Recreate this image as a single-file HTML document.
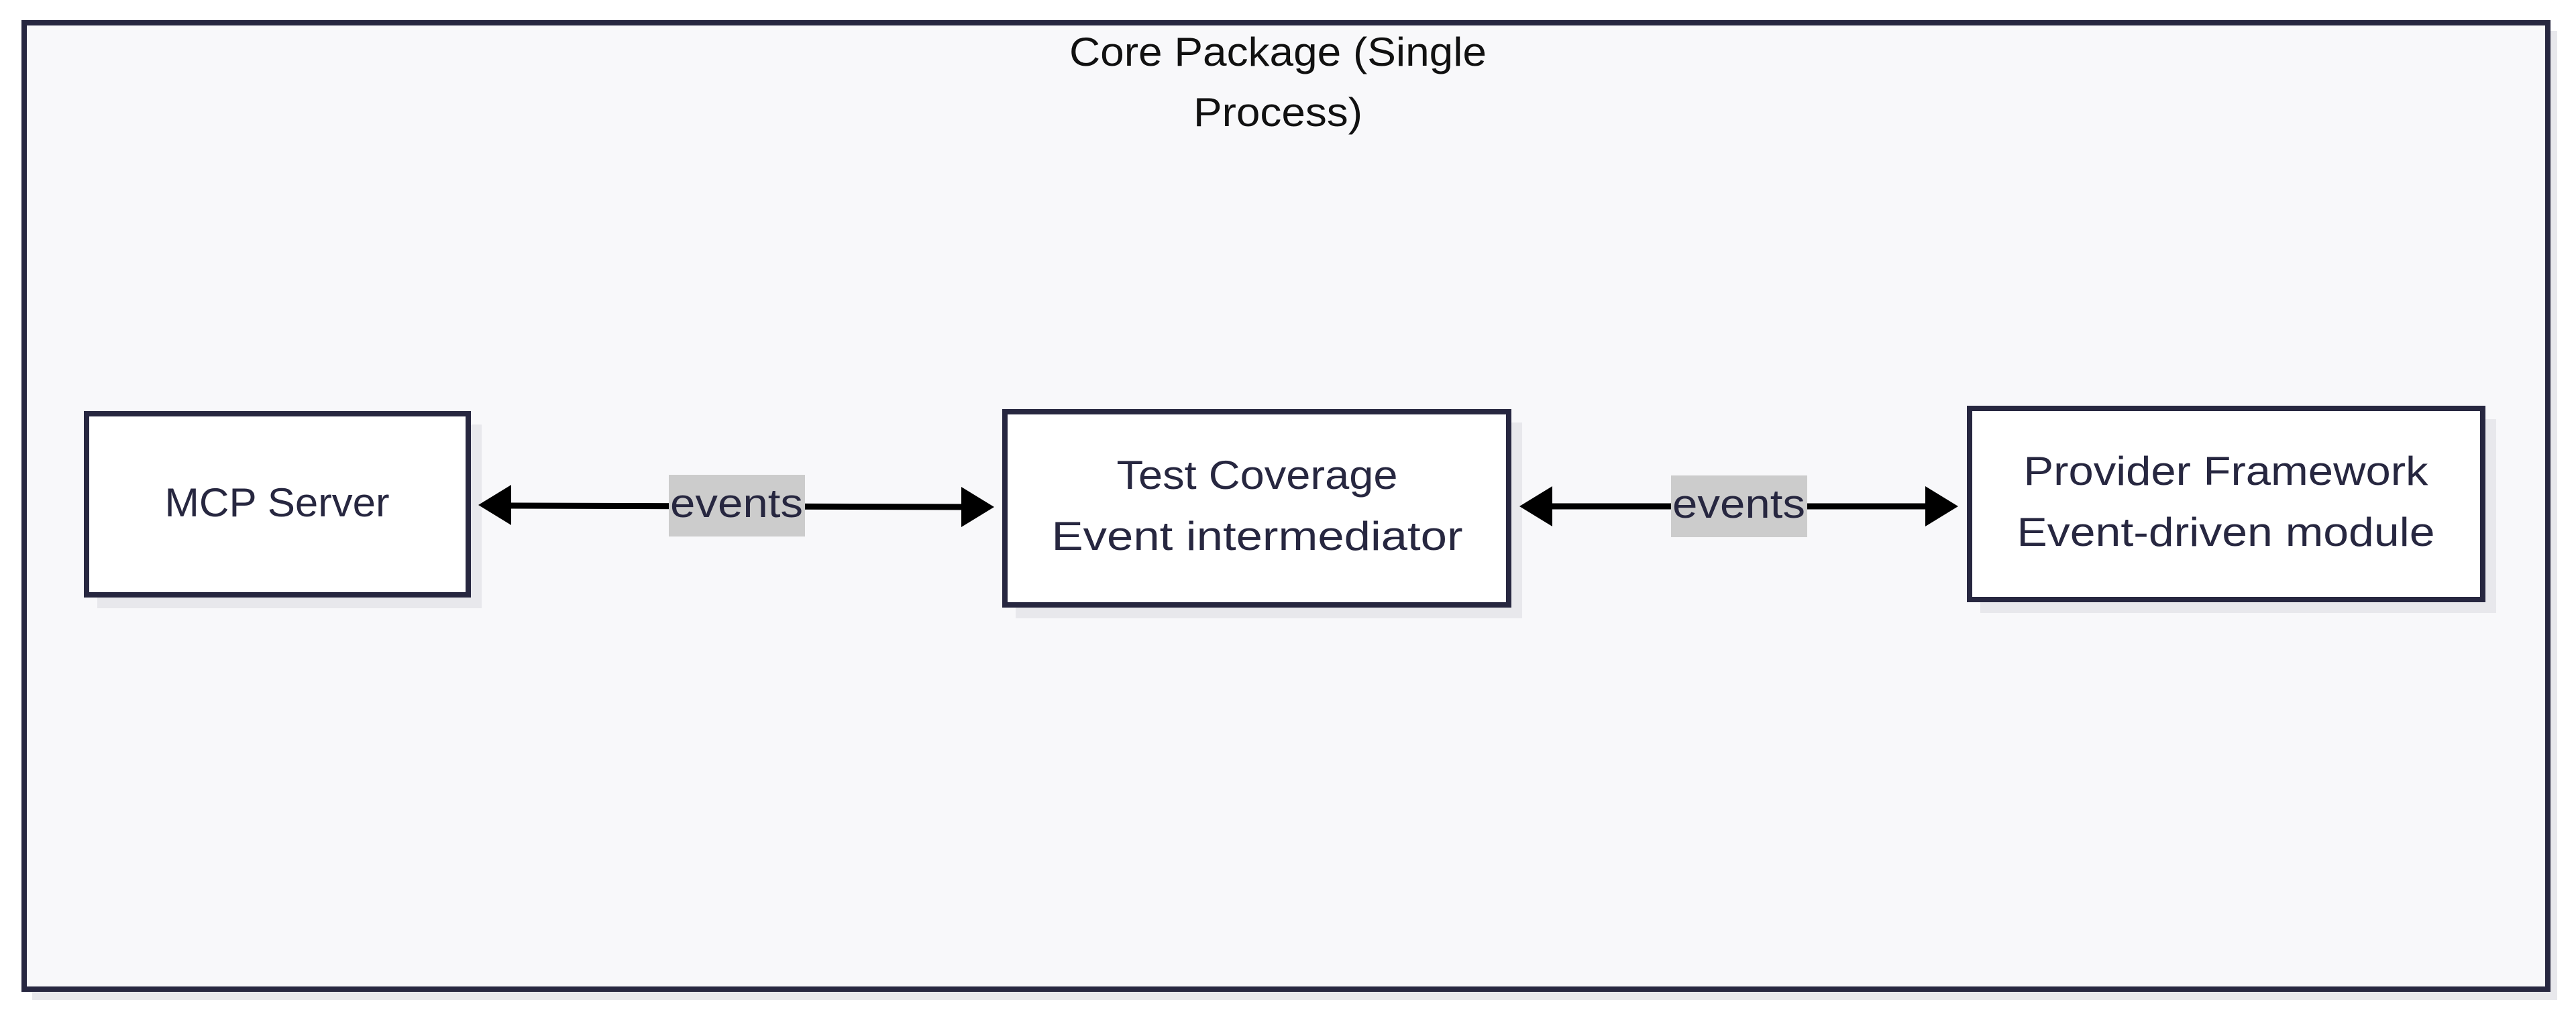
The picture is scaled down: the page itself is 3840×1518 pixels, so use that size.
<!DOCTYPE html>
<html><head><meta charset="utf-8"><style>html,body{margin:0;padding:0;background:#fff}</style></head>
<body>
<svg width="3840" height="1513" viewBox="0 0 3840 1513" xmlns="http://www.w3.org/2000/svg" font-family="'Liberation Sans', 'DejaVu Sans', sans-serif">
<rect x="48" y="46" width="3764" height="1445" fill="#e8e8ec"/>
<rect x="36" y="34" width="3762" height="1441" fill="#f8f8fa" stroke="#272740" stroke-width="8"/>
<text x="1905" y="98" font-size="60" text-anchor="middle" fill="#111" textLength="622" lengthAdjust="spacingAndGlyphs">Core Package (Single</text>
<text x="1905" y="188" font-size="60" text-anchor="middle" fill="#111" textLength="252" lengthAdjust="spacingAndGlyphs">Process)</text>

<rect x="145" y="633" width="573" height="274" fill="#e8e8ec"/>
<rect x="129" y="617" width="569" height="270" fill="#fff" stroke="#272740" stroke-width="8"/>
<text x="413" y="770" font-size="60" text-anchor="middle" fill="#272740" textLength="335" lengthAdjust="spacingAndGlyphs">MCP Server</text>

<rect x="1514" y="630" width="755" height="292" fill="#e8e8ec"/>
<rect x="1498" y="614" width="751" height="288" fill="#fff" stroke="#272740" stroke-width="8"/>
<text x="1874" y="729" font-size="60" text-anchor="middle" fill="#272740" textLength="419" lengthAdjust="spacingAndGlyphs">Test Coverage</text>
<text x="1874" y="820" font-size="60" text-anchor="middle" fill="#272740" textLength="613" lengthAdjust="spacingAndGlyphs">Event intermediator</text>

<rect x="2952" y="625" width="769" height="289" fill="#e8e8ec"/>
<rect x="2936" y="609" width="765" height="285" fill="#fff" stroke="#272740" stroke-width="8"/>
<text x="3318" y="723" font-size="60" text-anchor="middle" fill="#272740" textLength="603" lengthAdjust="spacingAndGlyphs">Provider Framework</text>
<text x="3318" y="814" font-size="60" text-anchor="middle" fill="#272740" textLength="623" lengthAdjust="spacingAndGlyphs">Event-driven module</text>

<line x1="755" y1="754" x2="1440" y2="756" stroke="#000" stroke-width="9"/>
<polygon points="713,753 762,723 762,783" fill="#000"/>
<polygon points="1482,756 1433,726 1433,786" fill="#000"/>
<rect x="997" y="708" width="203" height="92" fill="#ccc"/>
<text x="1098" y="771" font-size="60" text-anchor="middle" fill="#272740" textLength="198" lengthAdjust="spacingAndGlyphs">events</text>

<line x1="2307" y1="755" x2="2877" y2="755" stroke="#000" stroke-width="9"/>
<polygon points="2265,755 2314,725 2314,785" fill="#000"/>
<polygon points="2919,755 2870,725 2870,785" fill="#000"/>
<rect x="2491" y="709" width="203" height="92" fill="#ccc"/>
<text x="2592" y="772" font-size="60" text-anchor="middle" fill="#272740" textLength="198" lengthAdjust="spacingAndGlyphs">events</text>
</svg>
</body></html>
